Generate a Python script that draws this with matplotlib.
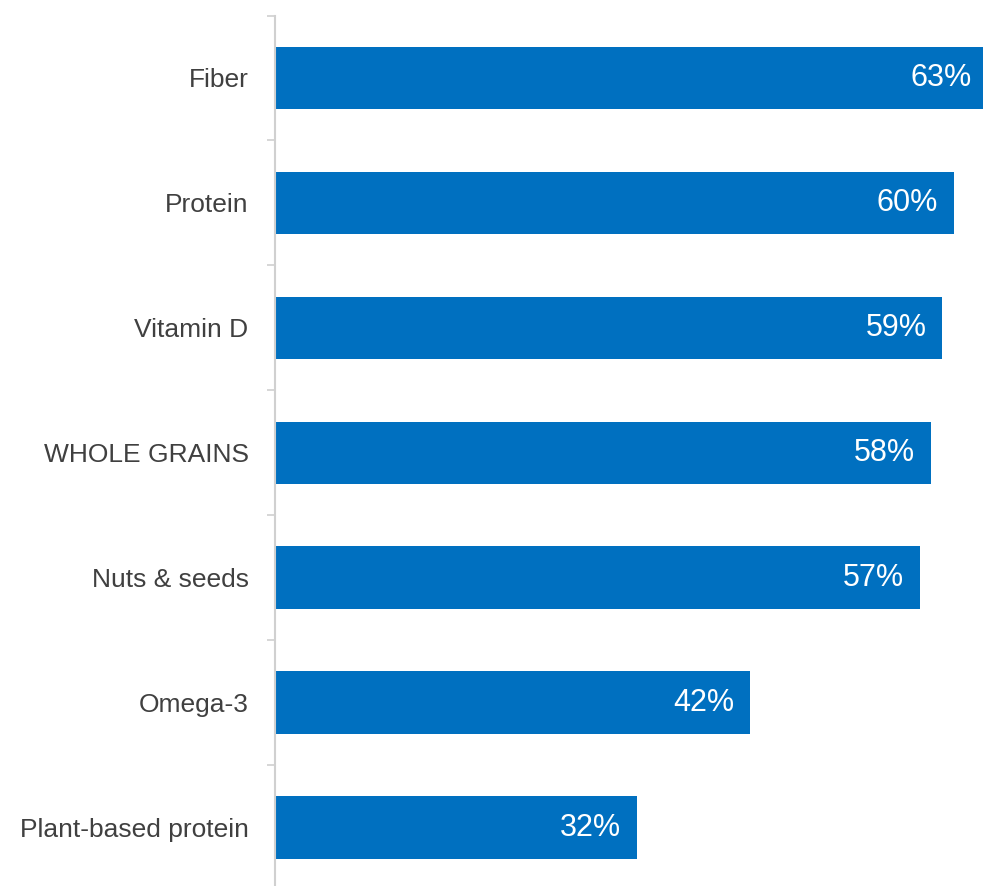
import numpy as np
import matplotlib
matplotlib.use("Agg")
from matplotlib import pyplot as plt
from matplotlib.ticker import FixedLocator

categories = ["Fiber", "Protein", "Vitamin D", "WHOLE GRAINS", "Nuts & seeds", "Omega-3", "Plant-based protein"]
values = [63, 60, 59, 58, 57, 42, 32]
value_labels = ["63%", "60%", "59%", "58%", "57%", "42%", "32%"]

bar_color = "#0070C0"
axis_color = "#D0D0D0"
text_color = "#404040"

plt.rcParams["font.family"] = ["Liberation Sans", "DejaVu Sans"]

fig = plt.figure(figsize=(9.83, 8.86), dpi=100)
# axes spans the chart area; bottom slot runs slightly past the figure edge
ax = fig.add_axes([274.5 / 983, -4 / 886, (983 - 274.5) / 983, (890 - 15.5) / 886])

y = np.arange(len(categories))
ax.barh(y, values, height=0.5, color=bar_color, zorder=2)

ax.set_xlim(0, (983 - 274.5) / 11.32)
ax.set_ylim(len(categories) - 0.5, -0.5)

# value labels inside the bar ends (Fiber's end lies past the figure edge)
for yi, v, lab in zip(y, values, value_labels):
    ax.annotate(lab, xy=(v, yi), xytext=(-16, 0), textcoords="offset pixels",
                ha="right", va="center", color="white", fontsize=22, zorder=3,
                annotation_clip=False)

ax.set_yticks(y)
ax.set_yticklabels(categories, fontsize=19, color=text_color)
ax.tick_params(axis="y", which="major", length=0, pad=26 * 72 / 100)
ax.yaxis.set_minor_locator(FixedLocator(np.arange(-0.5, len(categories), 1.0)))
ax.tick_params(axis="y", which="minor", length=6, width=1.2, color=axis_color)

ax.set_xticks([])
for side in ["top", "right", "bottom"]:
    ax.spines[side].set_visible(False)
ax.spines["left"].set_color(axis_color)
ax.spines["left"].set_linewidth(1.5)
ax.spines["left"].set_zorder(3)

fig.savefig("out.png", dpi=100)
